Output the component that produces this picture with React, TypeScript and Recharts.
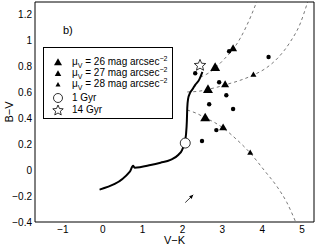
import { ComposedChart, Line, Scatter, XAxis, YAxis } from 'recharts';

// axis ticks
const xTicks = [-1, 0, 1, 2, 3, 4, 5];
const yTicks = [-0.4, -0.2, 0, 0.2, 0.4, 0.6, 0.8, 1, 1.2];

// solid evolutionary track
const trackX = [-0.08, 0.68, 0.76, 0.8, 1.2, 1.45, 1.7, 1.9, 1.99, 2.05, 2.09, 2.11, 2.12, 2.14, 2.19, 2.26, 2.32, 2.42, 2.5];
const trackY = [-0.15, -0.01, 0.035, 0.02, 0.04, 0.058, 0.08, 0.12, 0.156, 0.21, 0.28, 0.38, 0.48, 0.55, 0.597, 0.63, 0.66, 0.7, 0.76];

// dashed curves
const upperX = [2.45, 2.65, 2.82, 3.05, 3.27, 3.45, 3.6, 3.73, 3.86];
const upperY = [0.72, 0.75, 0.79, 0.86, 0.935, 1.02, 1.11, 1.2, 1.3];
const middleX = [2.12, 2.4, 2.64, 2.85, 3.07, 3.4, 3.78, 4.1, 4.4, 4.7, 4.95, 5.14];
const middleY = [0.605, 0.61, 0.625, 0.64, 0.66, 0.69, 0.736, 0.79, 0.87, 0.99, 1.13, 1.3];
const lowerX = [2.12, 2.35, 2.57, 2.8, 3.02, 3.35, 3.7, 4.05, 4.38, 4.62, 4.84];
const lowerY = [0.465, 0.44, 0.405, 0.37, 0.326, 0.24, 0.133, 0.0, -0.13, -0.25, -0.4];

// observed points
const dotX = [2.32, 3.17, 4.16, 2.92, 3.1, 2.67, 3.27, 2.85, 2.49];
const dotY = [0.75, 0.92, 0.875, 0.68, 0.58, 0.51, 0.473, 0.31, 0.226];
const tri26X = [2.82, 2.64, 2.57];
const tri26Y = [0.79, 0.62, 0.4];
const tri27X = [3.27, 3.07, 3.02];
const tri27Y = [0.937, 0.66, 0.326];
const tri28X = [3.78, 3.7];
const tri28Y = [0.736, 0.133];

// ages
const gyr1X = [2.07];
const gyr1Y = [0.21];
const gyr14X = [2.44];
const gyr14Y = [0.81];

// reddening arrow
const arrowX = [2.07, 2.27];
const arrowY = [-0.25, -0.19];

const pts = (xs: number[], ys: number[]) => xs.map((x, i) => ({ x, y: ys[i] }));

const fmt = (v: number) => String(v).replace('-', '\u2212');

const FONT = '"Liberation Sans", Arial, sans-serif';

function triPoints(cx: number, cy: number, s: number) {
  const h = s * 0.87;
  return `${cx},${cy - (h * 2) / 3} ${cx - s / 2},${cy + h / 3} ${cx + s / 2},${cy + h / 3}`;
}

function starPoints(cx: number, cy: number, r: number) {
  const out: string[] = [];
  for (let i = 0; i < 10; i++) {
    const rr = i % 2 === 0 ? r : r * 0.45;
    const a = -Math.PI / 2 + (i * Math.PI) / 5;
    out.push(`${cx + rr * Math.cos(a)},${cy + rr * Math.sin(a)}`);
  }
  return out.join(' ');
}

const triShape = (s: number) => (p: any) => <polygon points={triPoints(p.cx, p.cy, s)} fill="#000" />;

const axisCommon = {
  type: 'number' as const,
  domain: [-1.7, 5.3],
  ticks: xTicks,
  allowDataOverflow: true,
  dataKey: 'x',
};
const yCommon = {
  type: 'number' as const,
  domain: [-0.4, 1.3],
  ticks: yTicks,
  allowDataOverflow: true,
  dataKey: 'y',
};

function LegendBox() {
  const row = (top: number, marker: any, text: any) => (
    <div style={{ position: 'absolute', left: 0, top, height: 12, width: 128 }}>
      <svg width={28} height={12} style={{ position: 'absolute', left: 0, top: 0 }}>
        {marker}
      </svg>
      <div style={{ position: 'absolute', left: 28, top: 0, lineHeight: '12px', fontSize: 10, whiteSpace: 'nowrap' }}>
        {text}
      </div>
    </div>
  );
  const mu = (n: number) => (
    <span>
      μ<span style={{ fontSize: 7, position: 'relative', top: 3 }}>V</span> = {n} mag arcsec
      <span style={{ fontSize: 7, position: 'relative', top: -4 }}>{'\u2212'}2</span>
    </span>
  );
  return (
    <div
      style={{
        position: 'absolute',
        left: 43,
        top: 47,
        width: 128,
        height: 70,
        border: '1px solid #000',
        background: '#fff',
        fontFamily: FONT,
      }}
    >
      {row(8, <polygon points={triPoints(14, 7, 8)} fill="#000" />, mu(26))}
      {row(19, <polygon points={triPoints(14, 7, 6.5)} fill="#000" />, mu(27))}
      {row(30, <polygon points={triPoints(14, 7, 5)} fill="#000" />, mu(28))}
      {row(44, <circle cx={14} cy={6} r={4.5} fill="#fff" stroke="#000" strokeWidth={0.8} />, '1 Gyr')}
      {row(56, <polygon points={starPoints(14, 6.5, 5.5)} fill="#fff" stroke="#000" strokeWidth={0.8} />, '14 Gyr')}
    </div>
  );
}

export default function App() {
  return (
    <div style={{ position: 'absolute', left: 0, top: 0, width: 317, height: 248, fontFamily: FONT, background: '#fff' }}>
      <ComposedChart width={317} height={248} margin={{ top: 2, right: 3, bottom: 0, left: 0 }} style={{ fontFamily: FONT }}>
        <XAxis
          {...axisCommon}
          height={26}
          tickSize={0}
          tickMargin={4}
          tickLine={false}
          axisLine={{ stroke: '#000' }}
          tick={{ fontSize: 10, fill: '#000' }}
          tickFormatter={fmt}
          label={{ value: 'V\u2212K', position: 'insideBottom', offset: 4, fontSize: 11, fill: '#000' }}
        />
        <XAxis {...axisCommon} xAxisId="bi" mirror tick={false} tickSize={4} axisLine={false} tickLine={{ stroke: '#000' }} />
        <XAxis {...axisCommon} xAxisId="ti" orientation="top" mirror tick={false} tickSize={4} axisLine={{ stroke: '#000' }} tickLine={{ stroke: '#000' }} />
        <YAxis
          {...yCommon}
          width={35}
          tickSize={0}
          tickMargin={3}
          tickLine={false}
          axisLine={{ stroke: '#000' }}
          tick={{ fontSize: 10, fill: '#000' }}
          tickFormatter={fmt}
        />
        <YAxis {...yCommon} yAxisId="li" mirror tick={false} tickSize={4} axisLine={false} tickLine={{ stroke: '#000' }} />
        <YAxis {...yCommon} yAxisId="ri" orientation="right" mirror tick={false} tickSize={4} axisLine={{ stroke: '#000' }} tickLine={{ stroke: '#000' }} />

        <Line data={pts(upperX, upperY)} dataKey="y" type="monotone" stroke="#555" strokeWidth={0.8} strokeDasharray="3 3" dot={false} isAnimationActive={false} />
        <Line data={pts(middleX, middleY)} dataKey="y" type="monotone" stroke="#555" strokeWidth={0.8} strokeDasharray="3 3" dot={false} isAnimationActive={false} />
        <Line data={pts(lowerX, lowerY)} dataKey="y" type="monotone" stroke="#555" strokeWidth={0.8} strokeDasharray="3 3" dot={false} isAnimationActive={false} />
        <Line data={pts(trackX, trackY)} dataKey="y" type="monotone" stroke="#000" strokeWidth={2} dot={false} isAnimationActive={false} />
        <Line
          data={pts(arrowX, arrowY)}
          dataKey="y"
          type="linear"
          stroke="#000"
          strokeWidth={0.8}
          isAnimationActive={false}
          dot={(p: any) =>
            p.index === 1 ? (
              <polygon key={p.index} points="0,0 -4,-1.8 -4,1.8" fill="#000" transform={`translate(${p.cx},${p.cy}) rotate(-44)`} />
            ) : (
              <g key={p.index} />
            )
          }
        />

        <Scatter data={pts(dotX, dotY)} isAnimationActive={false} shape={(p: any) => <circle cx={p.cx} cy={p.cy} r={2.2} fill="#000" />} />
        <Scatter data={pts(tri26X, tri26Y)} isAnimationActive={false} shape={triShape(10)} />
        <Scatter data={pts(tri27X, tri27Y)} isAnimationActive={false} shape={triShape(8)} />
        <Scatter data={pts(tri28X, tri28Y)} isAnimationActive={false} shape={triShape(6)} />
        <Scatter data={pts(gyr1X, gyr1Y)} isAnimationActive={false} shape={(p: any) => <circle cx={p.cx} cy={p.cy} r={5} fill="#fff" stroke="#000" strokeWidth={0.8} />} />
        <Scatter data={pts(gyr14X, gyr14Y)} isAnimationActive={false} shape={(p: any) => <polygon points={starPoints(p.cx, p.cy, 6)} fill="#fff" stroke="#000" strokeWidth={0.8} />} />
      </ComposedChart>
      <div style={{ position: 'absolute', left: 63, top: 24, fontSize: 11, fontFamily: FONT }}>b)</div>
      <div
        style={{
          position: 'absolute',
          left: 9,
          top: 112,
          fontSize: 11,
          fontFamily: FONT,
          transform: 'translate(-50%, -50%) rotate(-90deg)',
          whiteSpace: 'nowrap',
        }}
      >
        B{'\u2212'}V
      </div>
      <LegendBox />
    </div>
  );
}
